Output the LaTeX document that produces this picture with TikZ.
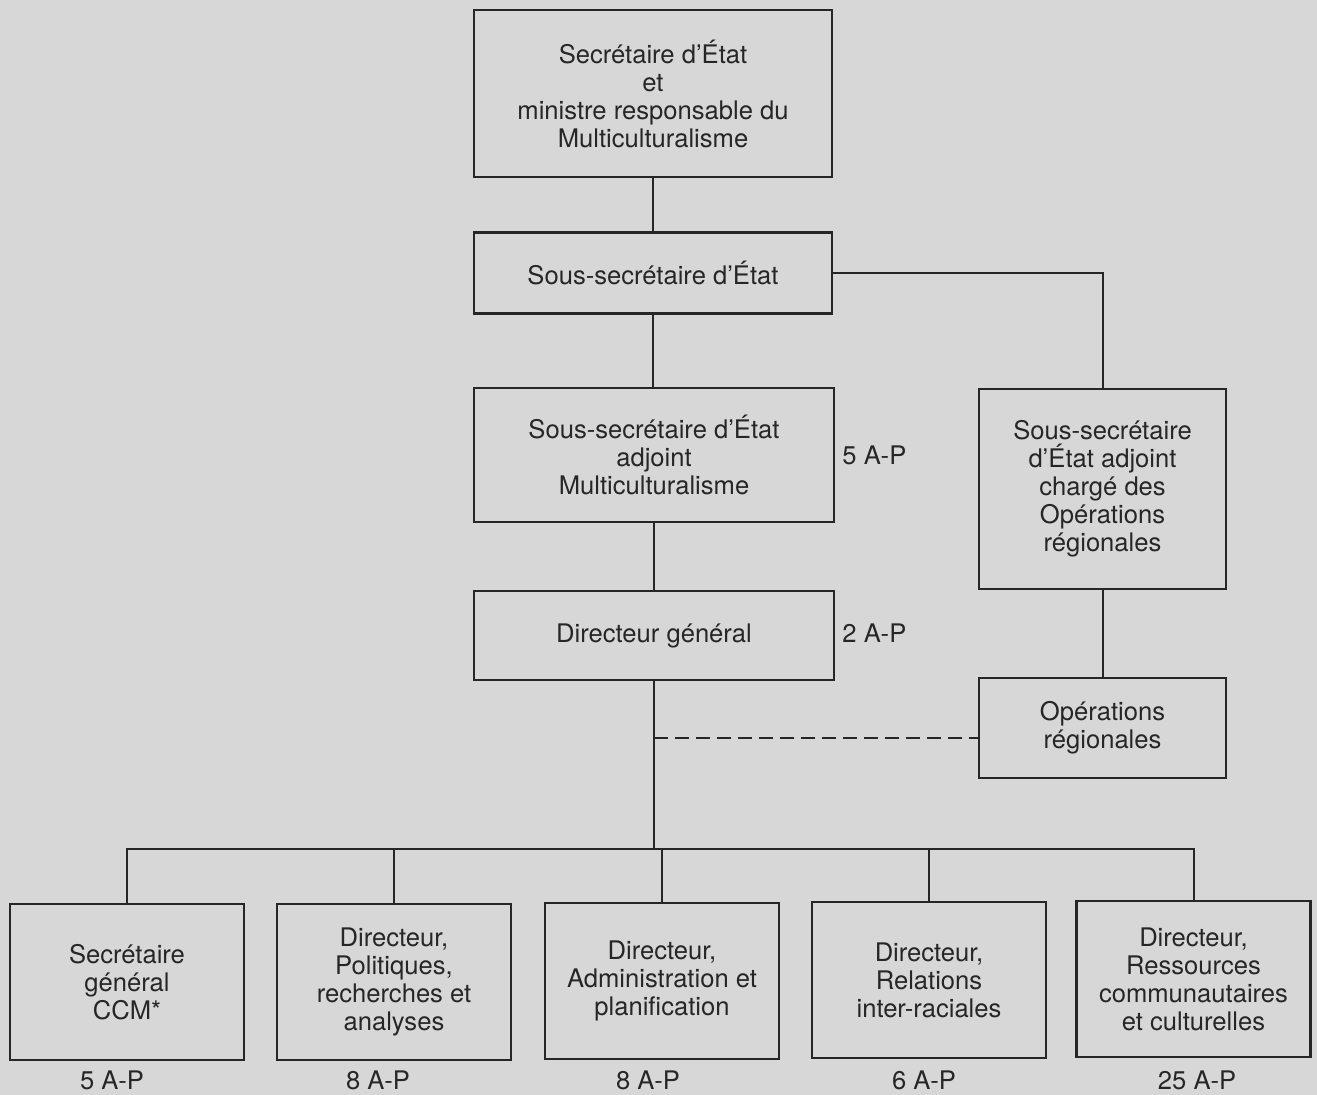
\documentclass[tikz,border=0pt]{standalone}
\usepackage{fontspec}
\setmainfont{TeX Gyre Heros}
\usetikzlibrary{positioning}
\definecolor{paper}{RGB}{215,215,216}
\definecolor{ink}{RGB}{38,38,38}
\tikzset{orgbox/.style={draw=ink,line width=1.2pt,rectangle,align=center,inner sep=0pt,text=ink,font=\fontsize{12.8}{14}\selectfont}}
\tikzset{orgline/.style={draw=ink,line width=1pt}}
\tikzset{aplabel/.style={inner sep=0pt,text=ink,font=\fontsize{12.8}{14}\selectfont}}

\begin{document}
\begin{tikzpicture}[x=0.5pt,y=-0.5pt]
          % Fond
          \fill [paper] (0,0) rectangle (1317,1095);
          \useasboundingbox (0,0) rectangle (1317,1095);

          % Cabinet
          \node [orgbox,minimum width=179pt,minimum height=83.5pt] (sec) at (653,93.5) {Secrétaire d’État\\et\\ministre responsable du\\Multiculturalisme};
          \node [orgbox,minimum width=179pt,minimum height=40.5pt] (sous) at (653,273) {Sous-secrétaire d’État};
          \node [orgbox,minimum width=180pt,minimum height=67pt] (adj) at (654,455) {Sous-secrétaire d’État\\adjoint\\Multiculturalisme};
          \node [orgbox,minimum width=180pt,minimum height=44.5pt] (dg) at (654,635.5) {Directeur général};

          % Operations regionales
          \node [orgbox,minimum width=123.5pt,minimum height=100pt] (radj) at (1102.5,489) {Sous-secrétaire\\d’État adjoint\\chargé des\\Opérations\\régionales};
          \node [orgbox,minimum width=123.5pt,minimum height=50pt] (ops) at (1102.5,728) {Opérations\\régionales};

          % Directions
          \begin{scope}[every node/.style={orgbox,minimum width=117pt,minimum height=78pt}]
              \node (sg) at (127,982) {Secrétaire\\général\\CCM*};
              \node (pol) at (394,982) {Directeur,\\Politiques,\\recherches et\\analyses};
              \node (adm) at (662,981) {Directeur,\\Administration et\\planification};
              \node (rel) at (929,980) {Directeur,\\Relations\\inter-raciales};
              \node (res) at (1193.5,979) {Directeur,\\Ressources\\communautaires\\et culturelles};
          \end{scope}

          % Effectifs
          \node [aplabel,anchor=west] (apadj) at (842,455) {5 A-P};
          \node [aplabel,anchor=west] (apdg) at (842,633) {2 A-P};
          \node [aplabel] (apsg) at (112,1080) {5 A-P};
          \node [aplabel] (appol) at (378,1080) {8 A-P};
          \node [aplabel] (apadm) at (648,1080) {8 A-P};
          \node [aplabel] (aprel) at (924,1080) {6 A-P};
          \node [aplabel] (apres) at (1197,1080) {25 A-P};

          % Liens
          \coordinate (bus) at (654,849);
          \coordinate (pointille) at (654,738);
          \draw [orgline] (sec) -- (sous);
          \draw [orgline] (sous) -- (sous |- adj.north);
          \draw [orgline] (adj) -- (adj |- dg.north);
          \draw [orgline] (sous.east) -| (radj.north);
          \draw [orgline] (radj) -- (ops);
          \draw [orgline] (dg.south) -- (bus);
          \draw [orgline] (sg.north) |- (bus) -| (res.north);
          \draw [orgline] (pol.north) -- (pol.north |- bus);
          \draw [orgline] (adm.north) -- (adm.north |- bus);
          \draw [orgline] (rel.north) -- (rel.north |- bus);
          \draw [orgline,dashed,dash pattern=on 7pt off 3.5pt] (pointille) -- (pointille -| ops.west);
\end{tikzpicture}
\end{document}
